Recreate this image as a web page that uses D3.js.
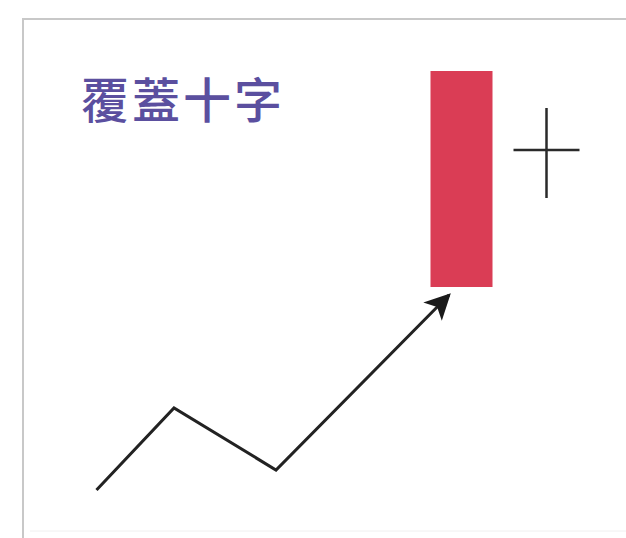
<!DOCTYPE html>
<html>
<head>
<meta charset="utf-8">
<script src="https://cdn.jsdelivr.net/npm/d3@7"></script>
<style>
html,body{margin:0;padding:0;background:#fff;}
svg{display:block;}
</style>
</head>
<body>
<svg id="chart" width="626" height="538"></svg>
<script>
// ---- data ----
const titleText = "覆蓋十字";
const trendX = [7.65, 15.4, 25.6, 42.9];
const trendY = [8, 24.4, 12, 47];
const candleX = [44.15];
const candleOpen = [48.6];
const candleClose = [91.8];
const candleWidth = [6.2];
const crossX = [52.65];
const crossValue = [76];
const crossHigh = [84.4];
const crossLow = [66.4];
const crossHalfWidth = [3.3];

const svg = d3.select("#chart");
const x = d3.scaleLinear().domain([0, 60]).range([20, 620]);
const y = d3.scaleLinear().domain([0, 100]).range([530, 30]);

// frame
svg.append("line").attr("x1", 23).attr("x2", 626).attr("y1", 19).attr("y2", 19)
  .attr("stroke", "#c8c8c8").attr("stroke-width", 2);
svg.append("line").attr("x1", 23).attr("x2", 23).attr("y1", 18).attr("y2", 538)
  .attr("stroke", "#c8c8c8").attr("stroke-width", 2);
svg.append("line").attr("x1", 30).attr("x2", 626).attr("y1", 531).attr("y2", 531)
  .attr("stroke", "#f0f0f0").attr("stroke-width", 1);

// title
svg.append("text").attr("x", 81).attr("y", 97)
  .attr("dominant-baseline", "central")
  .attr("font-family", "'Noto Sans CJK TC','Noto Sans CJK SC',sans-serif")
  .attr("font-size", 48).attr("font-weight", 500)
  .attr("letter-spacing", 3)
  .attr("fill", "#5b4f9f").text(titleText);

// arrow marker
const defs = svg.append("defs");
defs.append("marker").attr("id", "arrow")
  .attr("viewBox", "0 0 10 10").attr("refX", 9).attr("refY", 5)
  .attr("markerUnits", "userSpaceOnUse")
  .attr("markerWidth", 34).attr("markerHeight", 26)
  .attr("orient", "auto")
  .append("path").attr("d", "M0,0 L10,5 L0,10 L2.5,5 Z").attr("fill", "#1a1a1a");

// trend line
const pts = trendX.map((d, i) => [x(d), y(trendY[i])]);
svg.append("path").attr("d", d3.line()(pts))
  .attr("fill", "none").attr("stroke", "#222").attr("stroke-width", 3)
  .attr("stroke-linejoin", "miter")
  .attr("marker-end", "url(#arrow)");

// candle
candleX.forEach((cx, i) => {
  const w = x(candleWidth[i]) - x(0);
  svg.append("rect")
    .attr("x", x(cx) - w / 2)
    .attr("y", y(Math.max(candleOpen[i], candleClose[i])))
    .attr("width", w)
    .attr("height", Math.abs(y(candleOpen[i]) - y(candleClose[i])))
    .attr("fill", "#da3d55");
});

// cross (doji)
crossX.forEach((cx, i) => {
  const hw = x(crossHalfWidth[i]) - x(0);
  svg.append("line").attr("x1", x(cx) - hw).attr("x2", x(cx) + hw)
    .attr("y1", y(crossValue[i])).attr("y2", y(crossValue[i]))
    .attr("stroke", "#2a2a2a").attr("stroke-width", 2.5);
  svg.append("line").attr("x1", x(cx)).attr("x2", x(cx))
    .attr("y1", y(crossHigh[i])).attr("y2", y(crossLow[i]))
    .attr("stroke", "#2a2a2a").attr("stroke-width", 2.5);
});
</script>
</body>
</html>
